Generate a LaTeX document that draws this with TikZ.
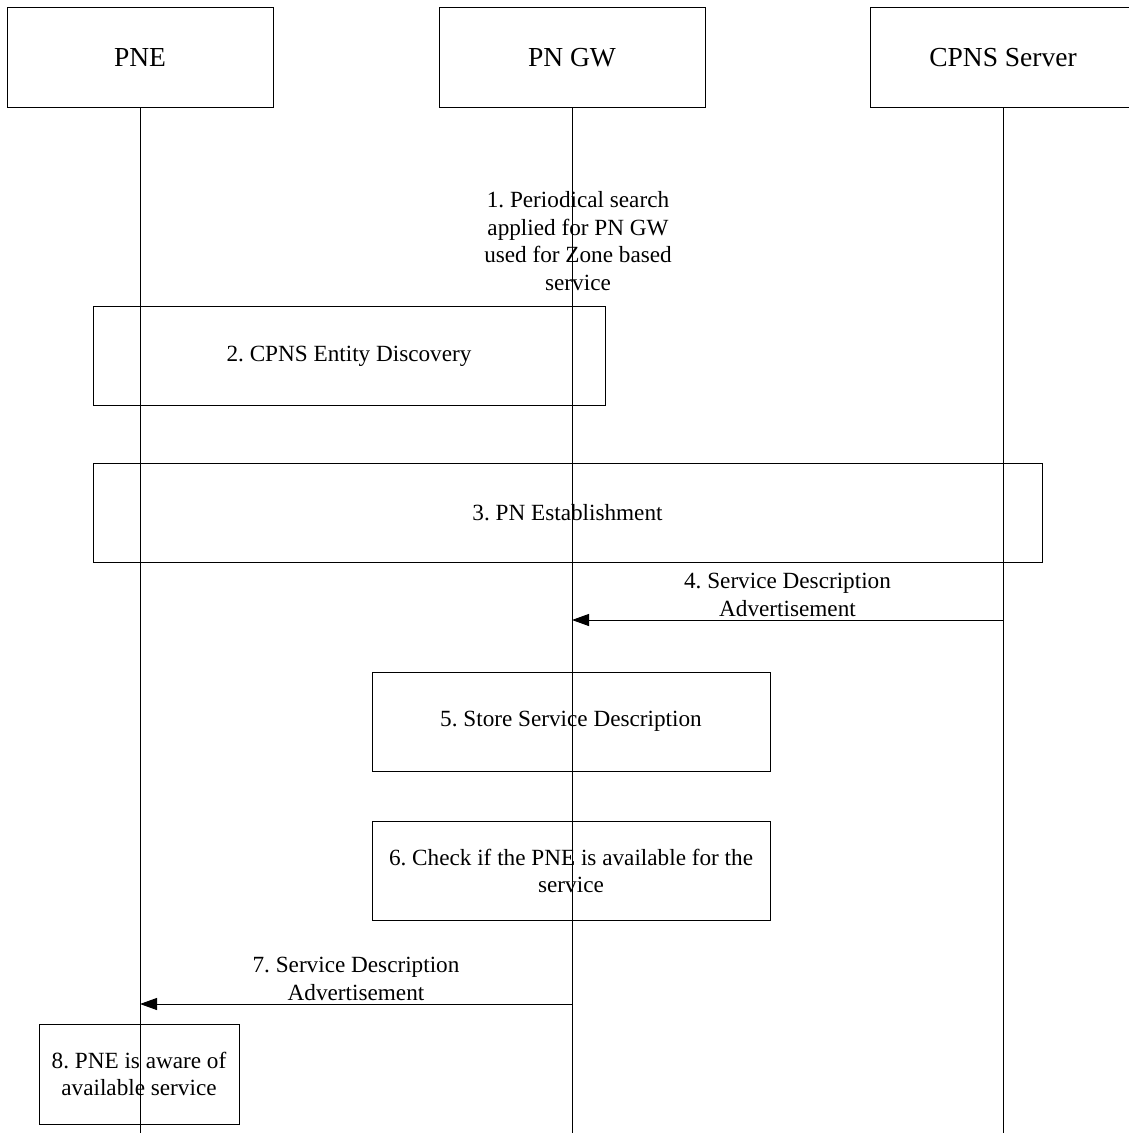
\documentclass[tikz,border=0pt]{standalone}
\usepackage{fontspec}
\setmainfont{Liberation Serif}
\frenchspacing
\usetikzlibrary{arrows.meta}
\tikzstyle{hd}=[rectangle,draw=black,line width=0.5pt,inner sep=0pt,
  minimum width=133pt,minimum height=50pt,font=\fontsize{13.75}{16}\selectfont]
\tikzstyle{sb}=[rectangle,draw=black,line width=0.5pt,inner sep=0pt,
  align=center,font=\fontsize{11.6}{13.9}\selectfont]
\tikzstyle{lbl}=[align=center,inner sep=1.5pt,font=\fontsize{11.6}{13.9}\selectfont]
\tikzstyle{life}=[line width=0.5pt]
\tikzstyle{msg}=[line width=0.5pt,-{Triangle[length=8.5pt,width=6pt]}]
\tikzstyle{none}=[]

\begin{document}
\begin{tikzpicture}[x=0.5pt, y=-0.5pt]
            \useasboundingbox (0, 0) rectangle (1128, 1133);
            % entities
            \node [style=hd] (0) at (140, 58) {PNE};
            \node [style=hd] (1) at (572, 58) {PN GW};
            \node [style=hd] (2) at (1003, 58) {CPNS Server};
            \node [style=none] (3) at (0, 1133) {};
            \draw [style=life] (0.south) to (0 |- 3.center);
            \draw [style=life] (1.south) to (1 |- 3.center);
            \draw [style=life] (2.south) to (2 |- 3.center);
            % steps
            \node [style=lbl] (4) at (578, 241) {1. Periodical search\\applied for PN GW\\used for Zone based\\service};
            \node [style=sb, minimum width=256pt, minimum height=49.5pt] (5) at (349, 356.5) {2. CPNS Entity Discovery};
            \node [style=sb, minimum width=474.5pt, minimum height=49.5pt] (6) at (567.5, 512.5) {3. PN Establishment};
            \node [style=none] (7) at (1003, 620) {};
            \node [style=none] (8) at (572, 620) {};
            \draw [style=msg] (7.center) to node [style=lbl, above] {4. Service Description\\Advertisement} (8.center);
            \node [style=sb, minimum width=199pt, minimum height=49.5pt] (9) at (571, 721.5) {5. Store Service Description};
            \node [style=sb, minimum width=199pt, minimum height=49.5pt] (10) at (571, 871) {6. Check if the PNE is available for the\\service};
            \node [style=none] (11) at (572, 1004) {};
            \node [style=none] (12) at (140, 1004) {};
            \draw [style=msg] (11.center) to node [style=lbl, above] {7. Service Description\\Advertisement} (12.center);
            \node [style=sb, minimum width=100pt, minimum height=50pt] (13) at (139, 1074) {8. PNE is aware of\\available service};
    \end{tikzpicture}
\end{document}
